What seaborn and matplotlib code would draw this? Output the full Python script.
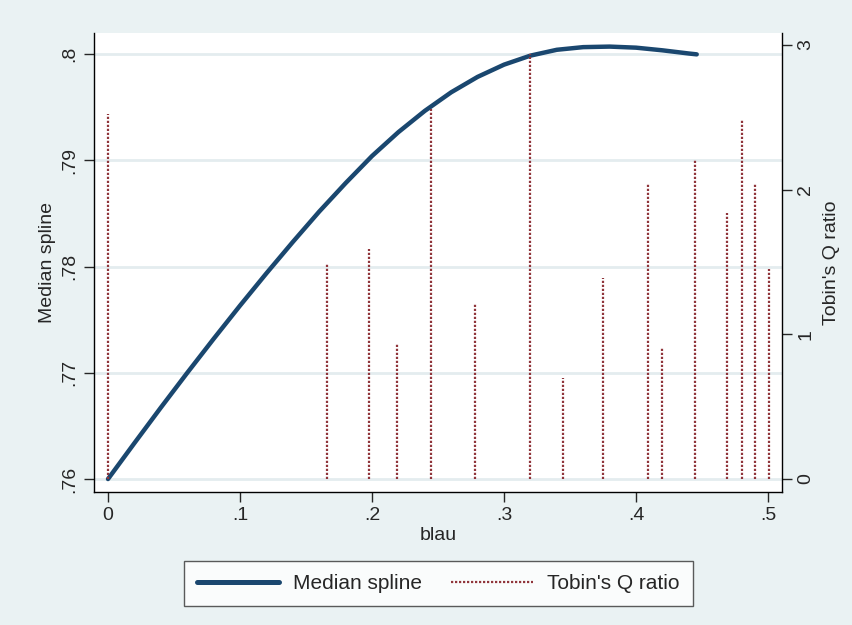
import matplotlib
matplotlib.use("Agg")
import matplotlib.pyplot as plt
import seaborn as sns
import pandas as pd

# median spline
blau_spline = [0, .02, .04, .06, .08, .10, .12, .14, .16, .18, .20, .22,
               .24, .26, .28, .30, .32, .34, .36, .38, .40, .42, .44, .446]
median_spline = [.76000, .76338, .76672, .76999, .77319, .77632, .77936,
                 .78231, .78517, .78785, .79040, .79265, .79465, .79640,
                 .79785, .79900, .79985, .80040, .80065, .80070, .80060,
                 .80035, .80005, .79997]

# Tobin's Q spikes
blau_q = [0, 0.166, 0.198, 0.219, 0.245, 0.278, 0.320, 0.345, 0.375,
          0.409, 0.420, 0.445, 0.469, 0.480, 0.490, 0.501]
tobin_q = [2.52, 1.49, 1.59, 0.94, 2.56, 1.21, 2.94, 0.70, 1.39,
           2.04, 0.91, 2.21, 1.84, 2.49, 2.04, 1.45]

x_ticks = [0, .1, .2, .3, .4, .5]
x_labels = ['0', '.1', '.2', '.3', '.4', '.5']
y_ticks = [.76, .77, .78, .79, .80]
y_labels = ['.76', '.77', '.78', '.79', '.8']
q_ticks = [0, 1, 2, 3]

bg = '#eaf2f3'
navy = '#1a476f'
maroon = '#90353b'

sns.set_style("white")
plt.rcParams['font.family'] = ['Liberation Sans', 'DejaVu Sans']

fig = plt.figure(figsize=(8.53, 6.25), dpi=100, facecolor=bg)
ax = fig.add_axes([94 / 853, 1 - 492 / 625, (782 - 94) / 853, (492 - 33) / 625])
ax.set_facecolor('white')

df = pd.DataFrame({'blau': blau_spline, 'spline': median_spline})
sns.lineplot(data=df, x='blau', y='spline', ax=ax, color=navy, lw=3.2,
             label='Median spline', legend=False, sort=False)

ax2 = ax.twinx()
ax2.vlines(blau_q, 0, tobin_q, colors=maroon, linestyles=(0, (1, 0.8)),
           lw=1.6, label="Tobin's Q ratio")

ax.set_xlim(-0.0106, 0.5106)
ax.set_ylim(0.75878, 0.80198)
ax2.set_ylim(-0.0898, 3.082)

ax.set_xticks(x_ticks, x_labels)
ax.set_yticks(y_ticks, y_labels)
ax2.set_yticks(q_ticks, [str(t) for t in q_ticks])

ax.grid(axis='y', color='#e4ecef', lw=2)
ax.grid(axis='x', visible=False)
ax2.grid(False)

for s in ['top', 'right']:
    ax.spines[s].set_visible(False)
for s in ['top', 'left', 'bottom']:
    ax2.spines[s].set_visible(False)
for a in [ax, ax2]:
    for s in a.spines.values():
        s.set_color('black')
        s.set_linewidth(1.0)

ax.tick_params(axis='x', direction='out', length=7, width=1, labelsize=14,
               pad=4, bottom=True)
ax.tick_params(axis='y', direction='out', length=7, width=1, labelsize=14,
               pad=4, left=True, labelrotation=90)
ax2.tick_params(axis='y', direction='out', length=7, width=1, labelsize=14,
                pad=4, right=True, labelrotation=90)
for t in ax.get_yticklabels() + ax2.get_yticklabels():
    t.set_va('center')

ax.set_xlabel('blau', fontsize=14, labelpad=2)
ax.set_ylabel('Median spline', fontsize=14, labelpad=4)
ax2.set_ylabel("Tobin's Q ratio", fontsize=14, rotation=90, labelpad=6)

h1, l1 = ax.get_legend_handles_labels()
h2, l2 = ax2.get_legend_handles_labels()
leg = fig.legend(h1 + h2, l1 + l2, loc='center', bbox_to_anchor=(0.514, 0.0664),
                 ncol=2, fontsize=15, frameon=True, fancybox=False,
                 edgecolor='#333333', handlelength=3.9, handletextpad=0.7,
                 columnspacing=1.4, borderpad=0.62)
leg.get_frame().set_linewidth(1.0)
leg.get_lines()[0].set_linewidth(3.6)

fig.savefig('out.png', dpi=100, facecolor=bg)
